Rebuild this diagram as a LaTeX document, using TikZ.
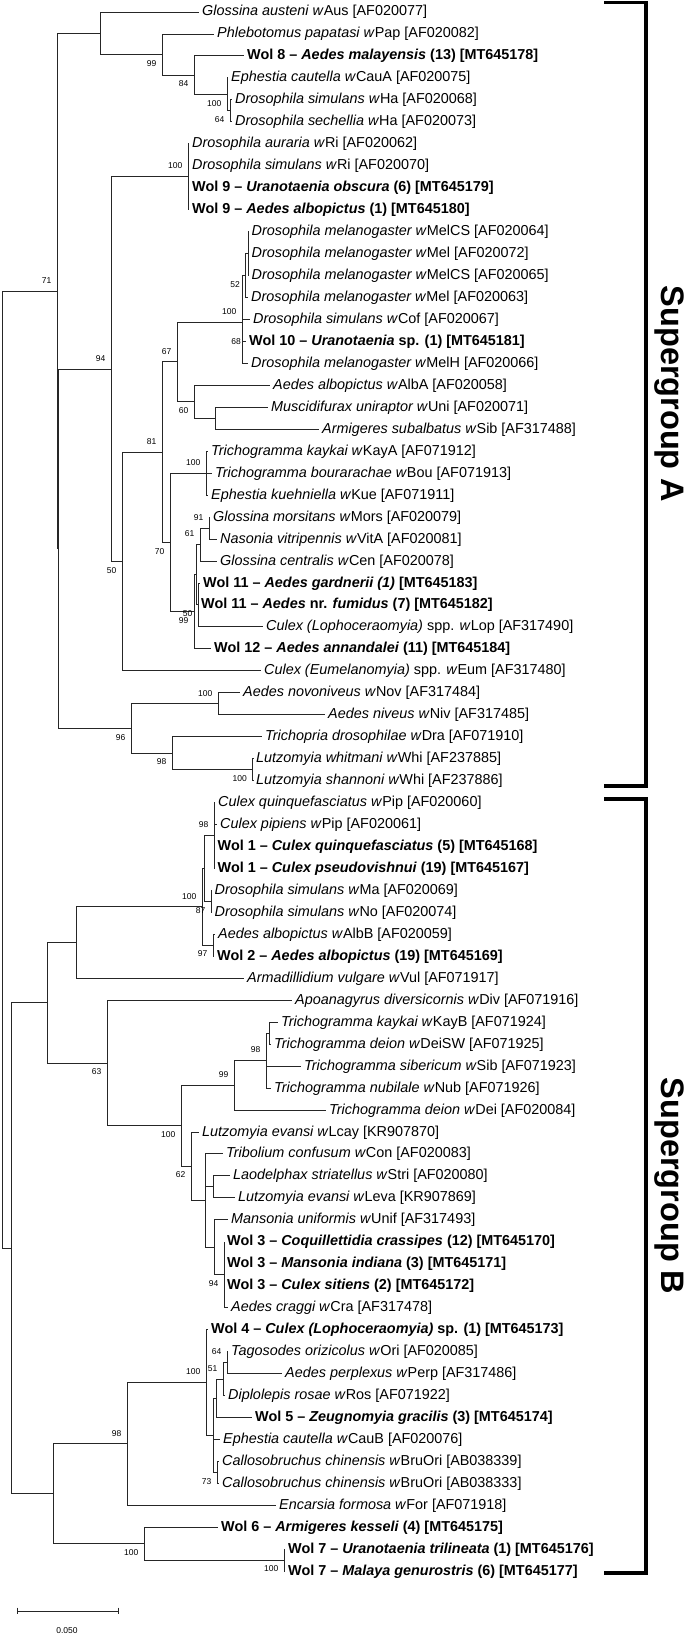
\documentclass[tikz,border=0pt]{standalone}
\usepackage{fontspec}
\setmainfont{Liberation Sans}
\begin{document}
\begin{tikzpicture}[x=1pt, y=-1pt,
    br/.style={draw=black!85, line width=0.9pt},
    leaf/.style={anchor=west, inner xsep=3pt, inner ysep=0pt, text height=0.8em, text depth=0pt, font=\fontsize{14.4}{16}\selectfont},
    bs/.style={inner sep=0pt, font=\fontsize{8.5}{9}\selectfont},
    bsa/.style={bs, anchor=south east, xshift=-5.5pt, yshift=7.5pt},
    bsb/.style={bs, anchor=north east, xshift=-5.5pt, yshift=-5.5pt},
    bracket/.style={line width=3.5pt},
    group/.style={font=\fontsize{32.5}{34}\selectfont\bfseries, rotate=-90, inner sep=0pt}]
        \useasboundingbox (0,0) rectangle (685,1635);

        % Leaves, supergroup A
        \node[leaf] (l1) at (199,12.0) {\textit{Glossina austeni w}Aus [AF020077]};
        \node[leaf] (l2) at (214,34.0) {\textit{Phlebotomus papatasi w}Pap [AF020082]};
        \node[leaf] (l3) at (244,55.9) {\textbf{Wol 8 -- \textit{Aedes malayensis} (13) [MT645178]}};
        \node[leaf] (l4) at (228,77.9) {\textit{Ephestia cautella w}CauA [AF020075]};
        \node[leaf] (l5) at (232,99.8) {\textit{Drosophila simulans w}Ha [AF020068]};
        \node[leaf] (l6) at (232,121.8) {\textit{Drosophila sechellia w}Ha [AF020073]};
        \node[leaf] (l7) at (189,143.8) {\textit{Drosophila auraria w}Ri [AF020062]};
        \node[leaf] (l8) at (189,165.7) {\textit{Drosophila simulans w}Ri [AF020070]};
        \node[leaf] (l9) at (189,187.7) {\textbf{Wol 9 -- \textit{Uranotaenia obscura} (6) [MT645179]}};
        \node[leaf] (l10) at (189,209.6) {\textbf{Wol 9 -- \textit{Aedes albopictus} (1) [MT645180]}};
        \node[leaf] (l11) at (248.5,231.6) {\textit{Drosophila melanogaster w}MelCS [AF020064]};
        \node[leaf] (l12) at (248.5,253.6) {\textit{Drosophila melanogaster w}Mel [AF020072]};
        \node[leaf] (l13) at (248.5,275.5) {\textit{Drosophila melanogaster w}MelCS [AF020065]};
        \node[leaf] (l14) at (248,297.5) {\textit{Drosophila melanogaster w}Mel [AF020063]};
        \node[leaf] (l15) at (250,319.4) {\textit{Drosophila simulans w}Cof [AF020067]};
        \node[leaf] (l16) at (246,341.4) {\textbf{Wol 10 -- \textit{Uranotaenia} sp. (1) [MT645181]}};
        \node[leaf] (l17) at (248,363.4) {\textit{Drosophila melanogaster w}MelH [AF020066]};
        \node[leaf] (l18) at (270,385.3) {\textit{Aedes albopictus w}AlbA [AF020058]};
        \node[leaf] (l19) at (268,407.3) {\textit{Muscidifurax uniraptor w}Uni [AF020071]};
        \node[leaf] (l20) at (319,429.2) {\textit{Armigeres subalbatus w}Sib [AF317488]};
        \node[leaf] (l21) at (208,451.2) {\textit{Trichogramma kaykai w}KayA [AF071912]};
        \node[leaf] (l22) at (212,473.2) {\textit{Trichogramma bourarachae w}Bou [AF071913]};
        \node[leaf] (l23) at (208,495.1) {\textit{Ephestia kuehniella w}Kue [AF071911]};
        \node[leaf] (l24) at (210,517.1) {\textit{Glossina morsitans w}Mors [AF020079]};
        \node[leaf] (l25) at (217,539.0) {\textit{Nasonia vitripennis w}VitA [AF020081]};
        \node[leaf] (l26) at (217,561.0) {\textit{Glossina centralis w}Cen [AF020078]};
        \node[leaf] (l27) at (200,583.0) {\textbf{Wol 11 -- \textit{Aedes gardnerii (1)} [MT645183]}};
        \node[leaf] (l28) at (198,604.9) {\textbf{Wol 11 -- \textit{Aedes} nr. \textit{fumidus} (7) [MT645182]}};
        \node[leaf] (l29) at (263,626.9) {\textit{Culex (Lophoceraomyia)} spp. \textit{w}Lop [AF317490]};
        \node[leaf] (l30) at (211,648.8) {\textbf{Wol 12 -- \textit{Aedes annandalei} (11) [MT645184]}};
        \node[leaf] (l31) at (261,670.8) {\textit{Culex (Eumelanomyia)} spp. \textit{w}Eum [AF317480]};
        \node[leaf] (l32) at (240,692.8) {\textit{Aedes novoniveus w}Nov [AF317484]};
        \node[leaf] (l33) at (325,714.7) {\textit{Aedes niveus w}Niv [AF317485]};
        \node[leaf] (l34) at (262,736.7) {\textit{Trichopria drosophilae w}Dra [AF071910]};
        \node[leaf] (l35) at (253,758.6) {\textit{Lutzomyia whitmani w}Whi [AF237885]};
        \node[leaf] (l36) at (253,780.6) {\textit{Lutzomyia shannoni w}Whi [AF237886]};

        % Leaves, supergroup B
        \node[leaf] (l37) at (215,802.6) {\textit{Culex quinquefasciatus w}Pip [AF020060]};
        \node[leaf] (l38) at (217,824.5) {\textit{Culex pipiens w}Pip [AF020061]};
        \node[leaf] (l39) at (214.5,846.5) {\textbf{Wol 1 -- \textit{Culex quinquefasciatus} (5) [MT645168]}};
        \node[leaf] (l40) at (214.5,868.4) {\textbf{Wol 1 -- \textit{Culex pseudovishnui} (19) [MT645167]}};
        \node[leaf] (l41) at (211.5,890.4) {\textit{Drosophila simulans w}Ma [AF020069]};
        \node[leaf] (l42) at (211.5,912.4) {\textit{Drosophila simulans w}No [AF020074]};
        \node[leaf] (l43) at (215,934.3) {\textit{Aedes albopictus w}AlbB [AF020059]};
        \node[leaf] (l44) at (214,956.3) {\textbf{Wol 2 -- \textit{Aedes albopictus} (19) [MT645169]}};
        \node[leaf] (l45) at (244,978.2) {\textit{Armadillidium vulgare w}Vul [AF071917]};
        \node[leaf] (l46) at (292,1000.2) {\textit{Apoanagyrus diversicornis w}Div [AF071916]};
        \node[leaf] (l47) at (278,1022.2) {\textit{Trichogramma kaykai w}KayB [AF071924]};
        \node[leaf] (l48) at (271,1044.1) {\textit{Trichogramma deion w}DeiSW [AF071925]};
        \node[leaf] (l49) at (301,1066.1) {\textit{Trichogramma sibericum w}Sib [AF071923]};
        \node[leaf] (l50) at (271,1088.0) {\textit{Trichogramma nubilale w}Nub [AF071926]};
        \node[leaf] (l51) at (326,1110.0) {\textit{Trichogramma deion w}Dei [AF020084]};
        \node[leaf] (l52) at (199,1132.0) {\textit{Lutzomyia evansi w}Lcay [KR907870]};
        \node[leaf] (l53) at (223,1153.9) {\textit{Tribolium confusum w}Con [AF020083]};
        \node[leaf] (l54) at (230,1175.9) {\textit{Laodelphax striatellus w}Stri [AF020080]};
        \node[leaf] (l55) at (235,1197.8) {\textit{Lutzomyia evansi w}Leva [KR907869]};
        \node[leaf] (l56) at (228,1219.8) {\textit{Mansonia uniformis w}Unif [AF317493]};
        \node[leaf] (l57) at (224,1241.8) {\textbf{Wol 3 -- \textit{Coquillettidia crassipes} (12) [MT645170]}};
        \node[leaf] (l58) at (224,1263.7) {\textbf{Wol 3 -- \textit{Mansonia indiana} (3) [MT645171]}};
        \node[leaf] (l59) at (224,1285.7) {\textbf{Wol 3 -- \textit{Culex sitiens} (2) [MT645172]}};
        \node[leaf] (l60) at (228,1307.6) {\textit{Aedes craggi w}Cra [AF317478]};
        \node[leaf] (l61) at (208,1329.6) {\textbf{Wol 4 -- \textit{Culex (Lophoceraomyia)} sp. (1) [MT645173]}};
        \node[leaf] (l62) at (228,1351.6) {\textit{Tagosodes orizicolus w}Ori [AF020085]};
        \node[leaf] (l63) at (282,1373.5) {\textit{Aedes perplexus w}Perp [AF317486]};
        \node[leaf] (l64) at (225,1395.5) {\textit{Diplolepis rosae w}Ros [AF071922]};
        \node[leaf] (l65) at (252,1417.4) {\textbf{Wol 5 -- \textit{Zeugnomyia gracilis} (3) [MT645174]}};
        \node[leaf] (l66) at (220,1439.4) {\textit{Ephestia cautella w}CauB [AF020076]};
        \node[leaf] (l67) at (219,1461.4) {\textit{Callosobruchus chinensis w}BruOri [AB038339]};
        \node[leaf] (l68) at (219,1483.3) {\textit{Callosobruchus chinensis w}BruOri [AB038333]};
        \node[leaf] (l69) at (276,1505.3) {\textit{Encarsia formosa w}For [AF071918]};
        \node[leaf] (l70) at (218,1527.2) {\textbf{Wol 6 -- \textit{Armigeres kesseli} (4) [MT645175]}};
        \node[leaf] (l71) at (285,1549.2) {\textbf{Wol 7 -- \textit{Uranotaenia trilineata} (1) [MT645176]}};
        \node[leaf] (l72) at (285,1571.2) {\textbf{Wol 7 -- \textit{Malaya genurostris} (6) [MT645177]}};

        % Inner nodes, supergroup A
        \coordinate (n6) at (230,110.8);
        \coordinate (n5) at (227,94.4);
        \coordinate (n4) at (194,75.1);
        \coordinate (n3) at (162,54.5);
        \coordinate (n2) at (100,33.3);
        \coordinate (nRi) at (188,176.7);
        \coordinate (nZ) at (248,253.6);
        \coordinate (n52) at (245.5,275.5);
        \coordinate (nMel) at (242,322);
        \coordinate (n60b) at (215,418.3);
        \coordinate (n60) at (194,401.8);
        \coordinate (n67) at (177,361.9);
        \coordinate (nTri) at (206,473.2);
        \coordinate (n91) at (209,528.1);
        \coordinate (n61) at (200,544.5);
        \coordinate (n50b) at (198,604.9);
        \coordinate (nV) at (196,574.7);
        \coordinate (n99) at (194,611.8);
        \coordinate (n70) at (170,542.5);
        \coordinate (n81) at (162,452.2);
        \coordinate (n50) at (122,561.5);
        \coordinate (n94) at (111,369.1);
        \coordinate (nNov) at (218,703.8);
        \coordinate (nLut) at (252.5,769.6);
        \coordinate (n98) at (172,753.2);
        \coordinate (n96) at (131,728.5);
        \coordinate (nX) at (58,548.8);
        \coordinate (n71) at (57,291.1);

        % Inner nodes, supergroup B
        \coordinate (nPip) at (214,835.5);
        \coordinate (nMaNo) at (211,901.4);
        \coordinate (nU) at (204,868.5);
        \coordinate (nAlb) at (213,945.3);
        \coordinate (nB100) at (202,906.9);
        \coordinate (nB2) at (76.5,942.6);
        \coordinate (nK) at (269,1033.2);
        \coordinate (n98c) at (266,1060.6);
        \coordinate (n99b) at (234,1085.3);
        \coordinate (nLL) at (213,1186.9);
        \coordinate (n94b) at (224,1274.7);
        \coordinate (nM) at (214,1247.3);
        \coordinate (nT) at (205,1200.6);
        \coordinate (n62) at (191,1166.3);
        \coordinate (nB100f) at (181,1125.8);
        \coordinate (n63) at (107,1063.0);
        \coordinate (nB1) at (47,1002.8);
        \coordinate (n64) at (227,1362.6);
        \coordinate (n51) at (223,1379.0);
        \coordinate (nZg) at (216,1398.2);
        \coordinate (n73) at (217,1472.4);
        \coordinate (nY) at (213,1435.3);
        \coordinate (nB100x) at (206,1382.5);
        \coordinate (n98g) at (127,1443.9);
        \coordinate (nW7) at (284,1560.2);
        \coordinate (nB100h) at (144,1543.7);
        \coordinate (nB98) at (53,1493.8);
        \coordinate (nB0) at (11,1248.3);
        \coordinate (root) at (2,769.7);

        % Branches, supergroup A
        \draw[br] (root) |- (n71) (root) |- (nB0);
        \draw[br] (n71) |- (n2) (n71) |- (nX);
        \draw[br] (n2) |- (l1.west) (n2) |- (n3);
        \draw[br] (n3) |- (l2.west) (n3) |- (n4);
        \draw[br] (n4) |- (l3.west) (n4) |- (n5);
        \draw[br] (n5) |- (l4.west) (n5) |- (n6);
        \draw[br] (n6) |- (l5.west) (n6) |- (l6.west);
        \draw[br] (nX) |- (n94) (nX) |- (n96);
        \draw[br] (n94) |- (nRi) (n94) |- (n50);
        \draw[br] (nRi) |- (l7.west) (nRi) |- (l8.west) (nRi) |- (l9.west) (nRi) |- (l10.west);
        \draw[br] (n50) |- (n81) (n50) |- (l31.west);
        \draw[br] (n81) |- (n67) (n81) |- (n70);
        \draw[br] (n67) |- (nMel) (n67) |- (n60);
        \draw[br] (nMel) |- (n52) (nMel) |- (l15.west) (nMel) |- (l16.west) (nMel) |- (l17.west);
        \draw[br] (n52) |- (nZ) (n52) |- (l14.west);
        \draw[br] (nZ) |- (l11.west) (nZ) |- (l12.west) (nZ) |- (l13.west);
        \draw[br] (n60) |- (l18.west) (n60) |- (n60b);
        \draw[br] (n60b) |- (l19.west) (n60b) |- (l20.west);
        \draw[br] (n70) |- (nTri) (n70) |- (n99);
        \draw[br] (nTri) |- (l21.west) (nTri) |- (l22.west) (nTri) |- (l23.west);
        \draw[br] (n99) |- (nV) (n99) |- (l30.west);
        \draw[br] (nV) |- (n61) (nV) |- (n50b);
        \draw[br] (n61) |- (n91) (n61) |- (l26.west);
        \draw[br] (n91) |- (l24.west) (n91) |- (l25.west);
        \draw[br] (n50b) |- (l27.west) (n50b) |- (l28.west) (n50b) |- (l29.west);
        \draw[br] (n96) |- (nNov) (n96) |- (n98);
        \draw[br] (nNov) |- (l32.west) (nNov) |- (l33.west);
        \draw[br] (n98) |- (l34.west) (n98) |- (nLut);
        \draw[br] (nLut) |- (l35.west) (nLut) |- (l36.west);

        % Branches, supergroup B
        \draw[br] (nB0) |- (nB1) (nB0) |- (nB98);
        \draw[br] (nB1) |- (nB2) (nB1) |- (n63);
        \draw[br] (nB2) |- (nB100) (nB2) |- (l45.west);
        \draw[br] (nB100) |- (nU) (nB100) |- (nAlb);
        \draw[br] (nU) |- (nPip) (nU) |- (nMaNo);
        \draw[br] (nPip) |- (l37.west) (nPip) |- (l38.west) (nPip) |- (l39.west) (nPip) |- (l40.west);
        \draw[br] (nMaNo) |- (l41.west) (nMaNo) |- (l42.west);
        \draw[br] (nAlb) |- (l43.west) (nAlb) |- (l44.west);
        \draw[br] (n63) |- (l46.west) (n63) |- (nB100f);
        \draw[br] (nB100f) |- (n99b) (nB100f) |- (n62);
        \draw[br] (n99b) |- (n98c) (n99b) |- (l51.west);
        \draw[br] (n98c) |- (nK) (n98c) |- (l49.west) (n98c) |- (l50.west);
        \draw[br] (nK) |- (l47.west) (nK) |- (l48.west);
        \draw[br] (n62) |- (l52.west) (n62) |- (nT);
        \draw[br] (nT) |- (l53.west) (nT) |- (nLL) (nT) |- (nM);
        \draw[br] (nLL) |- (l54.west) (nLL) |- (l55.west);
        \draw[br] (nM) |- (l56.west) (nM) |- (n94b);
        \draw[br] (n94b) |- (l57.west) (n94b) |- (l58.west) (n94b) |- (l59.west) (n94b) |- (l60.west);
        \draw[br] (nB98) |- (n98g) (nB98) |- (nB100h);
        \draw[br] (n98g) |- (nB100x) (n98g) |- (l69.west);
        \draw[br] (nB100x) |- (l61.west) (nB100x) |- (nY);
        \draw[br] (nY) |- (nZg) (nY) |- (l66.west) (nY) |- (n73);
        \draw[br] (nZg) |- (n51) (nZg) |- (l65.west);
        \draw[br] (n51) |- (n64) (n51) |- (l64.west);
        \draw[br] (n64) |- (l62.west) (n64) |- (l63.west);
        \draw[br] (n73) |- (l67.west) (n73) |- (l68.west);
        \draw[br] (nB100h) |- (l70.west) (nB100h) |- (nW7);
        \draw[br] (nW7) |- (l71.west) (nW7) |- (l72.west);

        % Bootstrap values
        \node[bsb] (b3) at (n3) {99};
        \node[bsb] (b4) at (n4) {84};
        \node[bsb] (b5) at (n5) {100};
        \node[bsb] (b6) at (n6) {64};
        \node[bsa] (b71) at (n71) {71};
        \node[bsa] (bRi) at (nRi) {100};
        \node[bsa] (b94) at (n94) {94};
        \node[bsa] (b67) at (n67) {67};
        \node[bsa] (bMel) at (nMel) {100};
        \node[bsb] (b52) at (n52) {52};
        \node[bs, anchor=east, xshift=-1pt] (b68) at (nMel |- l16.west) {68};
        \node[bsb] (b60) at (n60) {60};
        \node[bsa] (b81) at (n81) {81};
        \node[bsa] (bTri) at (nTri) {100};
        \node[bsa] (b91) at (n91) {91};
        \node[bsa] (b61) at (n61) {61};
        \node[bsb] (b70) at (n70) {70};
        \node[bsb] (b50b) at (n50b) {50};
        \node[bsb] (b99) at (n99) {99};
        \node[bsb] (b50) at (n50) {50};
        \node[bsa] (bNov) at (nNov) {100};
        \node[bsb] (b96) at (n96) {96};
        \node[bsb] (b98) at (n98) {98};
        \node[bsb] (bLut) at (nLut) {100};
        \node[bsa] (bPip) at (nPip) {98};
        \node[bsb] (bMaNo) at (nMaNo) {87};
        \node[bsb] (bAlb) at (nAlb) {97};
        \node[bsa] (bB100) at (nB100) {100};
        \node[bsb] (b63) at (n63) {63};
        \node[bsa] (b99b) at (n99b) {99};
        \node[bsa] (b98c) at (n98c) {98};
        \node[bsb] (bB100f) at (nB100f) {100};
        \node[bsb] (b62) at (n62) {62};
        \node[bsb] (b94b) at (n94b) {94};
        \node[bsa] (bB100x) at (nB100x) {100};
        \node[bsa] (b51) at (n51) {51};
        \node[bsa] (b64) at (n64) {64};
        \node[bsb] (b73) at (n73) {73};
        \node[bsa] (b98g) at (n98g) {98};
        \node[bsb] (bB100h) at (nB100h) {100};
        \node[bsb] (bW7) at (nW7) {100};

        % Supergroup brackets
        \draw[bracket] (604,2.5) -| (646,786) -- (604,786);
        \node[group] (sgA) at (669,394) {Supergroup A};
        \draw[bracket] (604,799) -| (646,1573) -- (604,1573);
        \node[group] (sgB) at (669,1186) {Supergroup B};

        % Scale bar
        \coordinate (sb1) at (17,1611);
        \coordinate (sb2) at (118,1611);
        \draw[br] (sb1) -- (sb2);
        \draw[br] ([yshift=3.3pt]sb1) -- ([yshift=-3.3pt]sb1);
        \draw[br] ([yshift=3.3pt]sb2) -- ([yshift=-3.3pt]sb2);
        \node[bs] (sbl) at (67,1631) {0.050};
\end{tikzpicture}
\end{document}
